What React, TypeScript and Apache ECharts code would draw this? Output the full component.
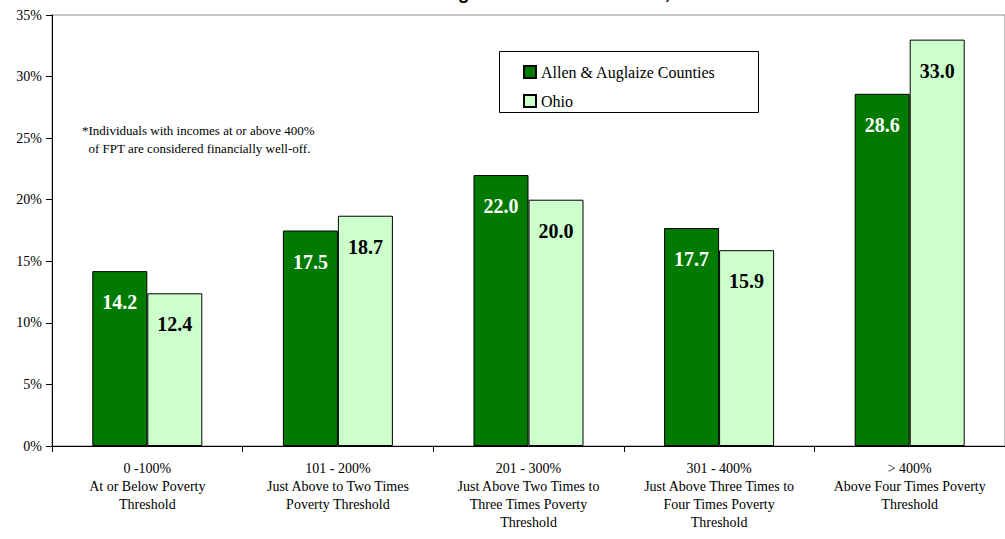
import React, { useEffect, useRef } from "react";
import * as echarts from "echarts";

const categories = [
  "0 -100%\nAt or Below Poverty\nThreshold",
  "101 - 200%\nJust Above to Two Times\nPoverty Threshold",
  "201 - 300%\nJust Above Two Times to\nThree Times Poverty\nThreshold",
  "301 - 400%\nJust Above Three Times to\nFour Times Poverty\nThreshold",
  "> 400%\nAbove Four Times Poverty\nThreshold",
];
const allenAuglaize = [14.2, 17.5, 22.0, 17.7, 28.6];
const ohio = [12.4, 18.7, 20.0, 15.9, 33.0];
const seriesNames = ["Allen & Auglaize Counties", "Ohio"];
const titleText = "Allen and Auglaize Counties & Ohio, 1999";
const noteText = "*Individuals with incomes at or above 400%\n  of FPT are considered financially well-off.";

const SERIF = "Liberation Serif";

export default function App() {
  const ref = useRef<HTMLDivElement>(null);
  useEffect(() => {
    if (!ref.current) return;
    const chart = echarts.init(ref.current, null, { renderer: "svg" });
    const labelBase = {
      show: true,
      position: "insideTop",
      distance: 21,
      fontFamily: SERIF,
      fontWeight: "bold",
      fontSize: 20,
      formatter: (p: any) => Number(p.value).toFixed(1),
    };
    chart.setOption({
      animation: false,
      backgroundColor: "#ffffff",
      textStyle: { fontFamily: SERIF },
      grid: {
        left: 52,
        top: 15,
        width: 965,
        height: 431,
        show: true,
        borderColor: "#8c8c8c",
        borderWidth: 1,
        backgroundColor: "transparent",
      },
      legend: {
        orient: "vertical",
        left: 518,
        top: 59,
        itemWidth: 12,
        itemHeight: 12,
        itemGap: 13,
        icon: "rect",
        textStyle: { fontFamily: SERIF, fontSize: 16, color: "#000" },
        data: seriesNames,
      },
      xAxis: {
        type: "category",
        data: categories,
        axisLine: { lineStyle: { color: "#000", width: 1 } },
        axisTick: { show: true, length: 6, lineStyle: { color: "#000" } },
        axisLabel: {
          interval: 0,
          fontFamily: SERIF,
          fontSize: 14,
          lineHeight: 18,
          color: "#000",
          margin: 13,
        },
      },
      yAxis: {
        type: "value",
        min: 0,
        max: 35,
        interval: 5,
        splitLine: { show: false },
        axisLine: { show: true, lineStyle: { color: "#000", width: 1 } },
        axisTick: { show: true, length: 6, lineStyle: { color: "#000" } },
        axisLabel: {
          formatter: "{value}%",
          fontFamily: SERIF,
          fontSize: 14,
          color: "#000",
          margin: 10,
        },
      },
      series: [
        {
          name: seriesNames[0],
          type: "bar",
          data: allenAuglaize,
          barWidth: 55,
          barGap: "0%",
          itemStyle: { color: "#007a00", borderColor: "#000", borderWidth: 1 },
          label: { ...labelBase, color: "#ffffff" },
        },
        {
          name: seriesNames[1],
          type: "bar",
          data: ohio,
          barWidth: 55,
          barGap: "0%",
          itemStyle: { color: "#ccffcc", borderColor: "#000", borderWidth: 1 },
          label: { ...labelBase, color: "#000000" },
        },
      ],
      graphic: [
        {
          type: "text",
          x: 530,
          y: 2,
          style: {
            text: titleText,
            fill: "#000",
            fontFamily: "Liberation Sans",
            fontWeight: "bold",
            fontSize: 19,
            textAlign: "center",
            textVerticalAlign: "bottom",
          },
        },
        {
          type: "rect",
          shape: { x: 499.5, y: 51.5, width: 259, height: 61 },
          style: { fill: "none", stroke: "#000", lineWidth: 1 },
          z: 10,
        },
        {
          type: "text",
          x: 82,
          y: 121,
          style: {
            text: noteText,
            fill: "#000",
            fontFamily: SERIF,
            fontSize: 13,
            lineHeight: 18,
          },
        },
      ],
    });
    return () => chart.dispose();
  }, []);
  return (
    <div
      ref={ref}
      style={{ position: "fixed", left: 0, top: 0, width: 1005, height: 539 }}
    />
  );
}
